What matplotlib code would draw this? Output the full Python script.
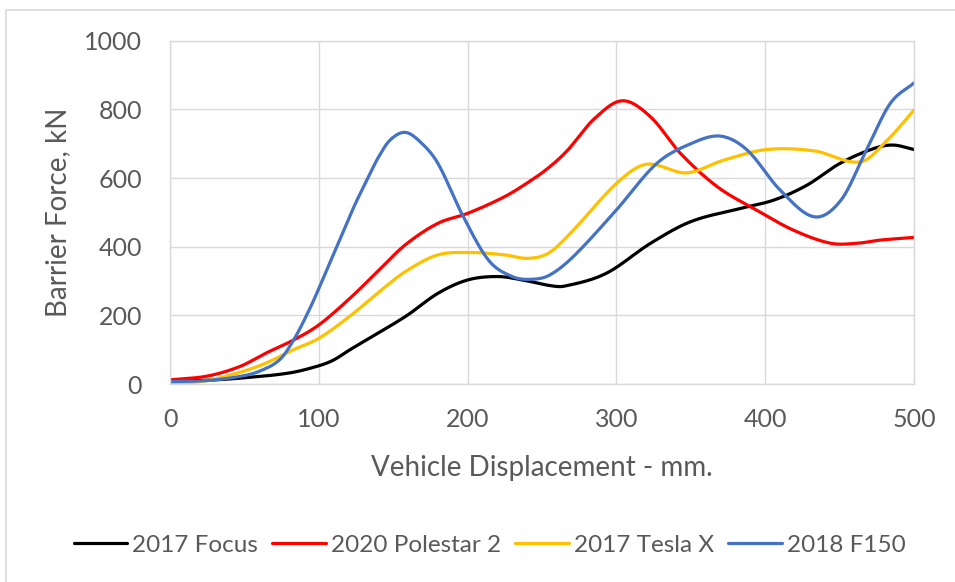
import matplotlib
matplotlib.use("Agg")
from matplotlib import pyplot as plt
from matplotlib.lines import Line2D
import numpy as np

plt.rcParams["font.family"] = ["Lato", "DejaVu Sans"]

# values (displacement mm, force kN)
focus_x = [0, 25, 47, 80, 100, 110, 121, 158, 180, 200, 220, 237, 255, 265, 293, 323, 350, 383, 406, 428, 450, 473, 486, 500]
focus_y = [7, 11, 17, 32, 53, 70, 100, 196, 264, 303, 313, 303, 287, 285, 322, 410, 473, 511, 536, 579, 642, 686, 696, 683]

polestar_x = [0, 25, 47, 64, 83, 100, 121, 141, 158, 180, 200, 225, 243, 255, 267, 285, 304, 323, 343, 368, 394, 419, 444, 462, 477, 500]
polestar_y = [12, 23, 51, 89, 128, 172, 250, 334, 405, 468, 497, 546, 594, 632, 680, 772, 825, 778, 672, 574, 507, 448, 410, 410, 419, 427]

tesla_x = [0, 25, 47, 64, 83, 100, 121, 141, 158, 180, 203, 225, 241, 255, 271, 300, 320, 347, 372, 401, 433, 464, 482, 500]
tesla_y = [0, 10, 34, 60, 100, 133, 198, 270, 327, 376, 383, 376, 366, 383, 448, 584, 640, 615, 652, 683, 679, 647, 710, 798]

f150_x = [0, 25, 47, 60, 74, 84, 94, 100, 113, 124, 133, 140, 148, 158, 168, 180, 196, 214, 230, 243, 255, 271, 300, 327, 350, 370, 388, 410, 433, 451, 468, 484, 500]
f150_y = [7, 10, 22, 37, 72, 135, 220, 278, 410, 520, 600, 660, 711, 733, 706, 643, 497, 361, 313, 305, 317, 371, 507, 642, 700, 722, 681, 565, 487, 536, 681, 817, 877]

labels = ["2017 Focus", "2020 Polestar 2", "2017 Tesla X", "2018 F150"]
colors = ["#000000", "#FF0000", "#FFC000", "#4472C4"]


def smooth(xs, ys, n=40):
    # hermite curve with centred slopes, close to excel's smoothed line
    x = np.asarray(xs, float)
    y = np.asarray(ys, float)
    d = np.empty_like(y)
    d[1:-1] = (y[2:] - y[:-2]) / (x[2:] - x[:-2])
    d[0] = (y[1] - y[0]) / (x[1] - x[0])
    d[-1] = (y[-1] - y[-2]) / (x[-1] - x[-2])
    px, py = [], []
    t = np.linspace(0, 1, n)
    for i in range(len(x) - 1):
        h = x[i + 1] - x[i]
        h00 = 2 * t ** 3 - 3 * t ** 2 + 1
        h10 = t ** 3 - 2 * t ** 2 + t
        h01 = -2 * t ** 3 + 3 * t ** 2
        h11 = t ** 3 - t ** 2
        px.append(x[i] + t * h)
        py.append(h00 * y[i] + h10 * h * d[i] + h01 * y[i + 1] + h11 * h * d[i + 1])
    return np.concatenate(px), np.concatenate(py)


fig = plt.figure(figsize=(9.55, 5.82), dpi=100)
ax = fig.add_axes([170 / 955, 1 - 384 / 582, 744 / 955, 343.3 / 582])

series = [(focus_x, focus_y), (polestar_x, polestar_y), (tesla_x, tesla_y), (f150_x, f150_y)]
for (xs, ys), lab, c in zip(series, labels, colors):
    sx, sy = smooth(xs, ys)
    ax.plot(sx, sy, color=c, linewidth=2.3, label=lab, solid_capstyle="round")

ax.set_xlim(0, 500)
ax.set_ylim(0, 1000)
ax.set_xticks(np.arange(0, 501, 100))
ax.set_yticks(np.arange(0, 1001, 200))
ax.grid(True, color="#d9d9d9", linewidth=1)
ax.set_axisbelow(True)
for s in ax.spines.values():
    s.set_color("#d9d9d9")
    s.set_linewidth(1)

ax.tick_params(length=0, labelsize=18, labelcolor="#595959")
ax.tick_params(axis="x", pad=17)
ax.tick_params(axis="y", pad=20)

ax.set_xlabel("Vehicle Displacement - mm.", fontsize=20, color="#595959", va="center")
ax.xaxis.set_label_coords(0.5, (384 - 468) / 343.3)
ax.set_ylabel("Barrier Force, kN", fontsize=20, color="#595959", va="center")
ax.yaxis.set_label_coords((58 - 170) / 744, 0.5)

fig.legend(loc="center", bbox_to_anchor=(489.5 / 955, 1 - 545 / 582), ncol=4, frameon=False,
           fontsize=17.5, labelcolor="#595959", handlelength=2.2, handletextpad=0.2,
           columnspacing=0.6, borderaxespad=0)

# outer chart border (top and left only visible)
fig.add_artist(Line2D([6 / 955, 6 / 955, 1], [0, 1 - 10 / 582, 1 - 10 / 582],
                      transform=fig.transFigure, color="#d9d9d9", linewidth=1.2))

fig.savefig("out.png", dpi=100)
